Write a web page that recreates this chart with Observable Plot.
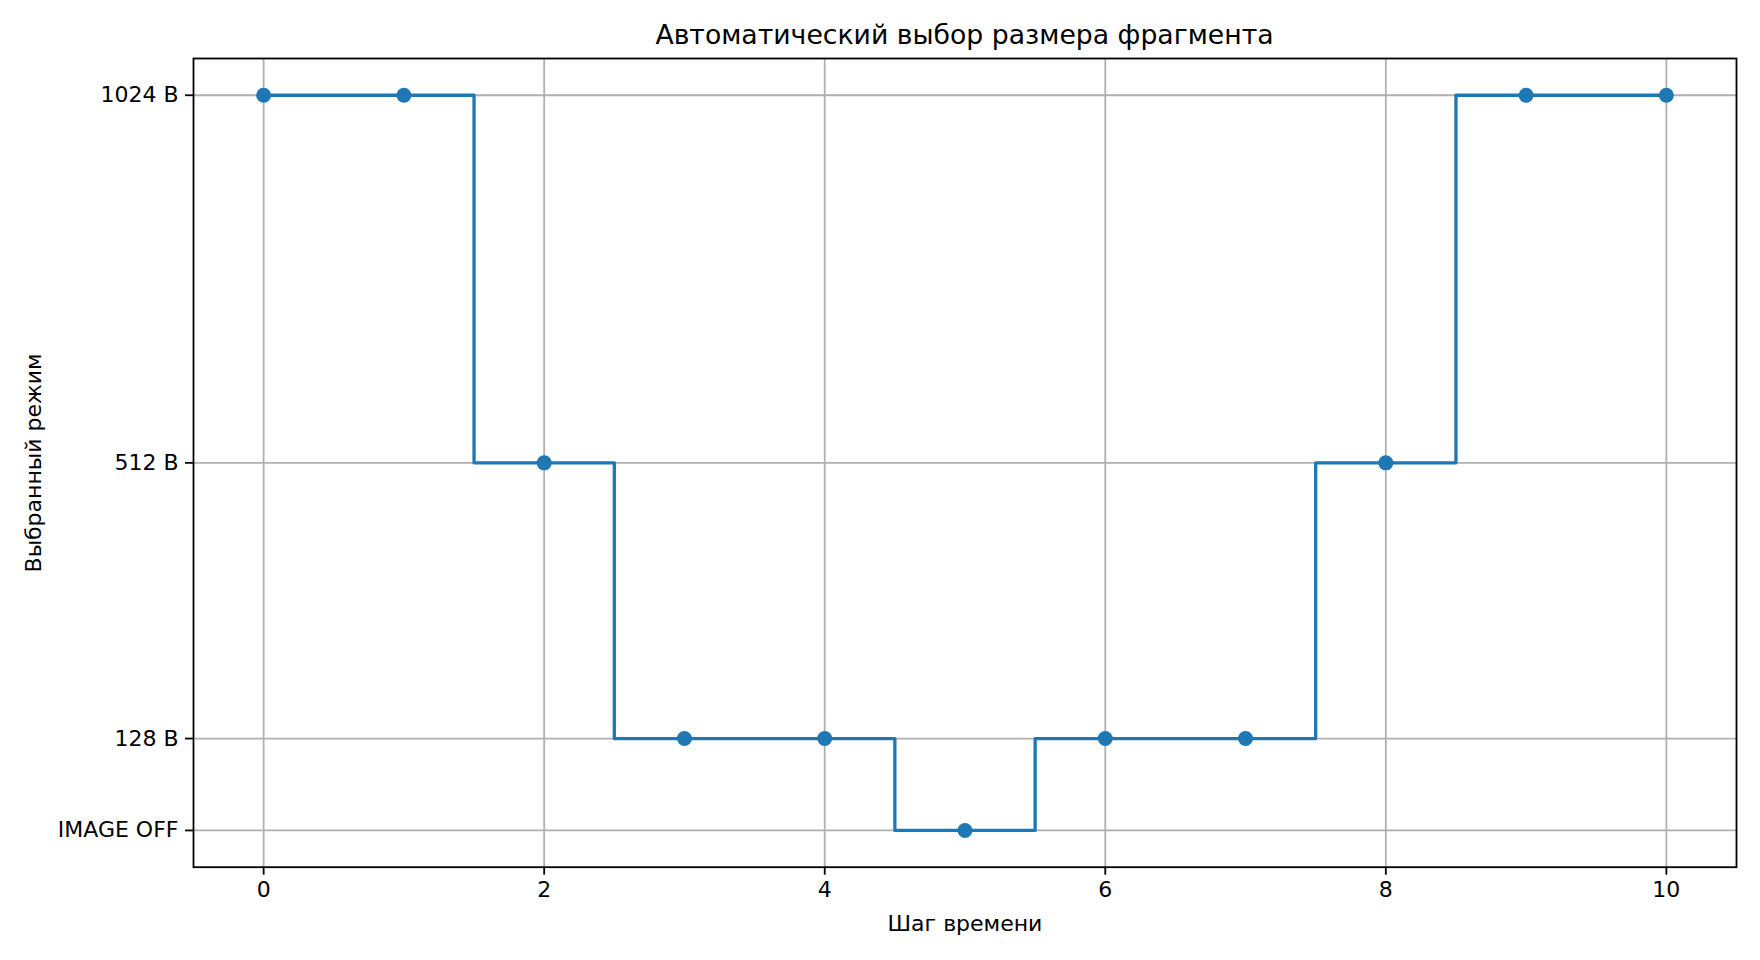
<!DOCTYPE html>
<html>
<head>
<meta charset="utf-8">
<script src="https://cdn.jsdelivr.net/npm/d3@7"></script>
<script src="https://cdn.jsdelivr.net/npm/@observablehq/plot@0.6"></script>
<style>
  html, body { margin: 0; padding: 0; background: #fff; }
  #title {
    width: 1543px; margin-left: 193px; height: 48px; box-sizing: border-box;
    padding-top: 21px; line-height: 27px; font-size: 26.7px;
    font-family: "DejaVu Sans", sans-serif; text-align: center; color: #000;
    white-space: nowrap;
  }
</style>
</head>
<body>
<div id="title">Автоматический выбор размера фрагмента</div>
<div id="chart"></div>
<script>
const steps = [0, 1, 2, 3, 4, 5, 6, 7, 8, 9, 10];
const modes = [1024, 1024, 512, 128, 128, 0, 128, 128, 512, 1024, 1024];
const yTicks = [0, 128, 512, 1024];
const yTickLabels = ["IMAGE OFF", "128 B", "512 B", "1024 B"];
const xTicks = [0, 2, 4, 6, 8, 10];
const xLabel = "Шаг времени";
const yLabel = "Выбранный режим";

const data = steps.map((s, i) => ({step: s, mode: modes[i]}));
const color = "#1f77b4";

const chart = Plot.plot({
  width: 1760,
  height: 912,
  marginTop: 10,
  marginBottom: 93.3,
  marginLeft: 193,
  marginRight: 24,
  style: {fontSize: "22px", fontFamily: "DejaVu Sans, sans-serif", color: "#000", background: "#fff"},
  x: {domain: [-0.5, 10.5]},
  y: {domain: [-51.2, 1075.2]},
  marks: [
    Plot.gridX(xTicks, {stroke: "#b0b0b0", strokeOpacity: 1, strokeWidth: 1.8}),
    Plot.gridY(yTicks, {stroke: "#b0b0b0", strokeOpacity: 1, strokeWidth: 1.8}),
    Plot.axisX(xTicks, {tickSize: 8, tickPadding: 6, strokeWidth: 1.8, label: null, fontSize: 22,
      tickFormat: d => String(d)}),
    Plot.axisY(yTicks, {tickSize: 8, tickPadding: 7, strokeWidth: 1.8, label: null, fontSize: 22,
      tickFormat: d => yTickLabels[yTicks.indexOf(d)]}),
    Plot.line(data, {x: "step", y: "mode", curve: "step", stroke: color, strokeWidth: 3.3}),
    Plot.dot(data, {x: "step", y: "mode", r: 7.5, fill: color, stroke: "none"}),
    Plot.frame({stroke: "#000", strokeWidth: 1.8}),
    Plot.text([xLabel], {frameAnchor: "bottom", dy: 57, lineAnchor: "middle", text: d => d, fontSize: 22, fill: "#000"}),
    Plot.text([yLabel], {frameAnchor: "left", dx: -160, rotate: -90, textAnchor: "middle", lineAnchor: "middle", text: d => d, fontSize: 22, fill: "#000"})
  ]
});
document.getElementById("chart").appendChild(chart);
</script>
</body>
</html>
